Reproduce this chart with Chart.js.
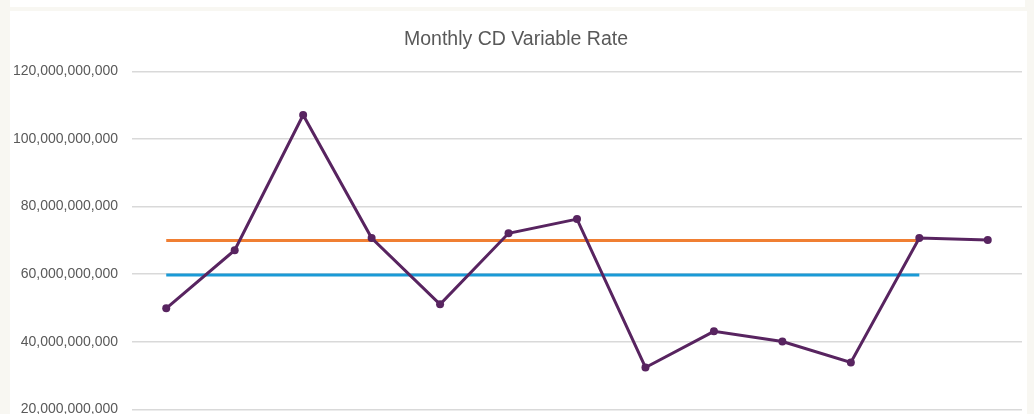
<!DOCTYPE html>
<html>
<head>
<meta charset="utf-8">
<script src="https://cdn.jsdelivr.net/npm/chart.js@4"></script>
<style>
  html, body { margin: 0; padding: 0; }
  body { width: 1034px; height: 414px; overflow: hidden; background: #f8f7f2; position: relative; }
  #topStrip { position: absolute; left: 10px; top: 0; width: 1015px; height: 7px; background: #fff; }
  #panel { position: absolute; left: 10px; top: 11px; width: 1017px; height: 499px; background: #fff; }
</style>
</head>
<body>
<div id="topStrip"></div>
<div id="panel"><canvas id="rateChart" width="1017" height="499"></canvas></div>
<script>
// values (x labels are cut off in the reference)
const months = ['Jan', 'Feb', 'Mar', 'Apr', 'May', 'Jun', 'Jul', 'Aug', 'Sep', 'Oct', 'Nov', 'Dec', 'Jan'];
const variableRate = [49.9e9, 67.1e9, 107.1e9, 70.7e9, 51.1e9, 72.1e9, 76.3e9, 32.4e9, 43.1e9, 40.1e9, 33.9e9, 70.7e9, 70.1e9];
const upperLine = [70e9, 70e9, 70e9, 70e9, 70e9, 70e9, 70e9, 70e9, 70e9, 70e9, 70e9, 70e9, null];
const averageLine = [59.8e9, 59.8e9, 59.8e9, 59.8e9, 59.8e9, 59.8e9, 59.8e9, 59.8e9, 59.8e9, 59.8e9, 59.8e9, 59.8e9, null];

const ctx = document.getElementById('rateChart').getContext('2d');
new Chart(ctx, {
  type: 'line',
  data: {
    labels: months,
    datasets: [
      {
        label: 'Variable Rate',
        data: variableRate,
        borderColor: '#582460',
        backgroundColor: '#582460',
        borderWidth: 3,
        pointRadius: 4,
        pointBorderWidth: 0,
        tension: 0,
        order: 0,
      },
      {
        label: 'Upper',
        data: upperLine,
        borderColor: '#f07f33',
        borderWidth: 3,
        pointRadius: 0,
        order: 1,
      },
      {
        label: 'Average',
        data: averageLine,
        borderColor: '#1a9ad6',
        borderWidth: 3,
        pointRadius: 0,
        order: 2,
      },
    ],
  },
  options: {
    responsive: false,
    animation: false,
    layout: { padding: { left: 0, right: 5, top: 0, bottom: 25 } },
    plugins: {
      legend: { display: false },
      tooltip: { enabled: false },
      title: {
        display: true,
        text: 'Monthly CD Variable Rate',
        color: '#595959',
        font: { family: 'Liberation Sans', size: 19.5, weight: 'normal' },
        padding: { top: 17, bottom: 20 },
      },
    },
    scales: {
      x: {
        offset: true,
        grid: { display: false },
        border: { display: false },
        ticks: { display: false },
      },
      y: {
        min: 0,
        max: 120e9,
        afterFit: (scale) => { scale.width = 122; },
        grid: { color: '#d9d9d9', lineWidth: 1.5, drawTicks: false },
        border: { display: false },
        ticks: {
          stepSize: 20e9,
          padding: 14,
          color: '#595959',
          font: { family: 'Liberation Sans', size: 14 },
          callback: (v) => v.toLocaleString('en-US'),
        },
      },
    },
  },
});
</script>
</body>
</html>
